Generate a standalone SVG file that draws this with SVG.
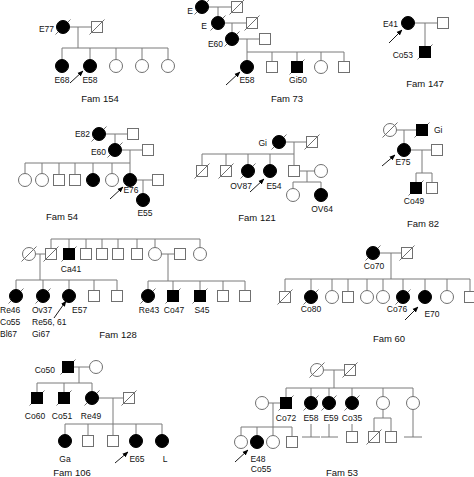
<svg xmlns="http://www.w3.org/2000/svg" width="474" height="477" viewBox="0 0 474 477">
<style>
.o{fill:#fff;stroke:#707070;stroke-width:1}
.f{fill:#000;stroke:#000;stroke-width:1}
.d{stroke:#707070;stroke-width:1;fill:none}
.ln{stroke:#7a7a7a;stroke-width:1;fill:none}
.ar{stroke:#000;stroke-width:0.9;fill:none;marker-end:url(#ah)}
text{font-family:"Liberation Sans",Arial,sans-serif;font-size:8.5px;fill:#111;text-anchor:middle}
.e{text-anchor:end}
.s{text-anchor:start}
.fam{font-size:9.5px}
</style>
<defs>
<circle id="C" r="6.5"/>
<rect id="S" x="-5.5" y="-5.5" width="11" height="11"/>
<path id="D" d="M-7.5,7.5L7.5,-7.5"/>
<marker id="ah" markerUnits="userSpaceOnUse" viewBox="0 0 10 10" refX="9" refY="5" markerWidth="6" markerHeight="6" orient="auto"><path d="M0,1L10,5L0,9z" fill="#000"/></marker>
</defs>
<rect width="474" height="477" fill="#fff"/>
<g id="connectors" class="ln">
<path id="c154" d="M69.5,27H91.5M78,27V48M62,48H168M62,48V59.5M90,48V59.5M116,48V59.5M142,48V59.5M168,48V59.5"/>
<path id="c73" d="M208.5,7H231.5M218,7V16.5M224.5,23H246.5M232,23V32.5M238.5,39H259.5M247,39V60.5M247,52H344M272,52V61.5M297,52V61.5M321,52V60.5M344,52V61.5"/>
<path id="c147" d="M414.5,23H437.5M425,23V46.5"/>
<path id="c54" d="M105.5,134H127.5M115,134V143.5M121.5,150H142.5M130,150V173.5M25,163H130M25,163V173.5M42,163V173.5M59,163V174.5M75,163V174.5M93,163V173.5M112,163V173.5M136.5,180H152.5M143,180V193.5"/>
<path id="c121" d="M285.5,142H306.5M294,142V165.5M202,154H294M202,154V165.5M226,154V165.5M248,154V164.5M270,154V164.5M299.5,171H314.5M307,171V182M293,182H321M293,182V188.5M321,182V188.5"/>
<path id="c82" d="M396.5,130H416.5M404,130V143.5M410.5,150H431.5M422,150V173M416,173H432M416,173V182.5M432,173V182.5"/>
<path id="c128" d="M51,239H200M51,239V248.5M69,239V248.5M86,239V248.5M102,239V248.5M118,239V248.5M137,239V248.5M155,239V247.5M200,239V247.5M35.5,254H45.5M40,254V280M16,280H117M16,280V289.5M43,280V289.5M69,280V289.5M94,280V290.5M117,280V290.5M161.5,254H174.5M168,254V281M148,281H245M148,281V289.5M173,281V290.5M200,281V290.5M223,281V290.5M245,281V290.5"/>
<path id="c60" d="M379.5,253H401.5M391,253V279M285,279H470M285,279V291.5M311,279V290.5M332,279V290.5M348,279V291.5M367,279V290.5M383,279V290.5M403,279V290.5M425,279V290.5M447,279V290.5M470,279V291.5"/>
<path id="c106" d="M73.5,367H89.5M79,367V383M37,383H92M37,383V392.5M64,383V392.5M92,383V391.5M98.5,398H123.5M113,398V424M65,424H162M65,424V434.5M88,424V435.5M113,424V435.5M136,424V434.5M162,424V434.5"/>
<path id="c53" d="M323.5,370H344.5M334,370V388M286,388H413M286,388V397.5M311,388V396.5M329,388V396.5M352,388V396.5M383,388V396.5M413,388V396.5M268.5,403H280.5M273,403V427M241,427H292M241,427V435.5M257,427V435.5M273,427V435.5M292,427V436.5M311,424V437M302,437H320M329,424V437M321,437H338M352,424V431.5M383,409.5V418M374,418H391M374,418V431.5M391,418V431.5M413,409.5V437M404,437H422"/>
</g>

<g id="fam154">
<g id="f154-E77"><use href="#D" x="63" y="27" class="d"/><use href="#C" x="63" y="27" class="f"/><text class="e" x="54" y="32">E77</text></g>
<g id="f154-father"><use href="#S" x="97" y="27" class="o"/><use href="#D" x="97" y="27" class="d"/></g>
<g id="f154-E68"><use href="#C" x="62" y="66" class="f"/><text x="62" y="83">E68</text></g>
<g id="f154-E58"><use href="#C" x="90" y="66" class="f"/><text x="90" y="83">E58</text><path class="ar" d="M70,83L83,71"/></g>
<g id="f154-c3"><use href="#C" x="116" y="66" class="o"/></g>
<g id="f154-c4"><use href="#C" x="142" y="66" class="o"/></g>
<g id="f154-c5"><use href="#C" x="168" y="66" class="o"/></g>
<text class="fam" x="100" y="102">Fam 154</text>
</g>

<g id="fam73">
<g id="f73-E1"><use href="#D" x="202" y="7" class="d"/><use href="#C" x="202" y="7" class="f"/><text class="e" x="193" y="14">E</text></g>
<g id="f73-sp1"><use href="#S" x="237" y="7" class="o"/><use href="#D" x="237" y="7" class="d"/></g>
<g id="f73-E2"><use href="#D" x="218" y="23" class="d"/><use href="#C" x="218" y="23" class="f"/><text class="e" x="207" y="29">E</text></g>
<g id="f73-sp2"><use href="#S" x="252" y="23" class="o"/><use href="#D" x="252" y="23" class="d"/></g>
<g id="f73-E60"><use href="#D" x="232" y="39" class="d"/><use href="#C" x="232" y="39" class="f"/><text class="e" x="223" y="47">E60</text></g>
<g id="f73-sp3"><use href="#S" x="265" y="39" class="o"/></g>
<g id="f73-E58"><use href="#C" x="247" y="67" class="f"/><text x="247" y="83">E58</text><path class="ar" d="M226,85L240,72"/></g>
<g id="f73-c2"><use href="#S" x="272" y="67" class="o"/></g>
<g id="f73-Gi50"><use href="#D" x="297" y="67" class="d"/><use href="#S" x="297" y="67" class="f"/><text x="298" y="83">Gi50</text></g>
<g id="f73-c4"><use href="#C" x="321" y="67" class="o"/></g>
<g id="f73-c5"><use href="#S" x="344" y="67" class="o"/></g>
<text class="fam" x="287" y="102">Fam 73</text>
</g>

<g id="fam147">
<g id="f147-E41"><use href="#C" x="408" y="23" class="f"/><text class="e" x="398" y="27">E41</text><path class="ar" d="M389,43L402,30"/></g>
<g id="f147-sp"><use href="#S" x="443" y="23" class="o"/></g>
<g id="f147-Co53"><use href="#D" x="425" y="52" class="d"/><use href="#S" x="425" y="52" class="f"/><text class="e" x="413" y="58">Co53</text></g>
<text class="fam" x="425" y="87">Fam 147</text>
</g>

<g id="fam54">
<g id="f54-E82"><use href="#D" x="99" y="134" class="d"/><use href="#C" x="99" y="134" class="f"/><text class="e" x="90" y="137">E82</text></g>
<g id="f54-sp1"><use href="#S" x="133" y="134" class="o"/></g>
<g id="f54-E60"><use href="#D" x="115" y="150" class="d"/><use href="#C" x="115" y="150" class="f"/><text class="e" x="106" y="155">E60</text></g>
<g id="f54-sp2"><use href="#S" x="148" y="150" class="o"/></g>
<g id="f54-c1"><use href="#C" x="25" y="180" class="o"/></g>
<g id="f54-c2"><use href="#C" x="42" y="180" class="o"/></g>
<g id="f54-c3"><use href="#S" x="59" y="180" class="o"/></g>
<g id="f54-c4"><use href="#S" x="75" y="180" class="o"/></g>
<g id="f54-c5"><use href="#C" x="93" y="180" class="f"/></g>
<g id="f54-c6"><use href="#C" x="112" y="180" class="o"/></g>
<g id="f54-E76"><use href="#C" x="130" y="180" class="f"/><text x="131" y="193">E76</text><path class="ar" d="M110,199L123,187"/></g>
<g id="f54-sp3"><use href="#S" x="158" y="180" class="o"/></g>
<g id="f54-E55"><use href="#C" x="143" y="200" class="f"/><text x="145" y="216">E55</text></g>
<text class="fam" x="62" y="220">Fam 54</text>
</g>

<g id="fam121">
<g id="f121-Gi"><use href="#D" x="279" y="142" class="d"/><use href="#C" x="279" y="142" class="f"/><text class="e" x="267" y="146">Gi</text></g>
<g id="f121-sp"><use href="#S" x="312" y="142" class="o"/><use href="#D" x="312" y="142" class="d"/></g>
<g id="f121-c1"><use href="#S" x="202" y="171" class="o"/><use href="#D" x="202" y="171" class="d"/></g>
<g id="f121-c2"><use href="#S" x="226" y="171" class="o"/><use href="#D" x="226" y="171" class="d"/></g>
<g id="f121-OV87"><use href="#D" x="248" y="171" class="d"/><use href="#C" x="248" y="171" class="f"/><text x="241" y="189">OV87</text></g>
<g id="f121-E54"><use href="#C" x="270" y="171" class="f"/><text x="274" y="189">E54</text><path class="ar" d="M250,192L264,179"/></g>
<g id="f121-c5"><use href="#S" x="294" y="171" class="o"/></g>
<g id="f121-sp2"><use href="#C" x="321" y="171" class="o"/></g>
<g id="f121-g1"><use href="#C" x="293" y="195" class="o"/></g>
<g id="f121-OV64"><use href="#C" x="321" y="195" class="f"/><text x="322" y="212">OV64</text></g>
<text class="fam" x="257" y="221">Fam 121</text>
</g>

<g id="fam82">
<g id="f82-gm"><use href="#C" x="390" y="130" class="o"/><use href="#D" x="390" y="130" class="d"/></g>
<g id="f82-Gi"><use href="#D" x="422" y="130" class="d"/><use href="#S" x="422" y="130" class="f"/><text class="s" x="434" y="133">Gi</text></g>
<g id="f82-E75"><use href="#C" x="404" y="150" class="f"/><text x="403" y="165">E75</text><path class="ar" d="M382,166L395,155"/></g>
<g id="f82-sp"><use href="#S" x="437" y="150" class="o"/></g>
<g id="f82-Co49"><use href="#D" x="416" y="188" class="d"/><use href="#S" x="416" y="188" class="f"/><text x="414" y="204">Co49</text></g>
<g id="f82-c2"><use href="#S" x="432" y="188" class="o"/></g>
<text class="fam" x="423" y="227">Fam 82</text>
</g>

<g id="fam128">
<g id="f128-m"><use href="#C" x="29" y="254" class="o"/><use href="#D" x="29" y="254" class="d"/></g>
<g id="f128-f"><use href="#S" x="51" y="254" class="o"/><use href="#D" x="51" y="254" class="d"/></g>
<g id="f128-Ca41"><use href="#D" x="69" y="254" class="d"/><use href="#S" x="69" y="254" class="f"/><text x="71" y="272">Ca41</text></g>
<g id="f128-s3"><use href="#S" x="86" y="254" class="o"/></g>
<g id="f128-s4"><use href="#S" x="102" y="254" class="o"/></g>
<g id="f128-s5"><use href="#S" x="118" y="254" class="o"/></g>
<g id="f128-s6"><use href="#S" x="137" y="254" class="o"/></g>
<g id="f128-s7"><use href="#C" x="155" y="254" class="o"/></g>
<g id="f128-sp"><use href="#S" x="180" y="254" class="o"/></g>
<g id="f128-s8"><use href="#C" x="200" y="254" class="o"/></g>
<g id="f128-Re46"><use href="#D" x="16" y="296" class="d"/><use href="#C" x="16" y="296" class="f"/><text class="s" x="0" y="313">Re46</text><text class="s" x="0" y="325">Co55</text><text class="s" x="0" y="337">Bl67</text></g>
<g id="f128-Ov37"><use href="#D" x="43" y="296" class="d"/><use href="#C" x="43" y="296" class="f"/><text class="s" x="32" y="313">Ov37</text><text class="s" x="32" y="325">Re56, 61</text><text class="s" x="32" y="337">Gi67</text></g>
<g id="f128-E57"><use href="#C" x="69" y="296" class="f"/><text class="s" x="72" y="313">E57</text><path class="ar" d="M54,318L66,301"/></g>
<g id="f128-c4"><use href="#S" x="94" y="296" class="o"/></g>
<g id="f128-c5"><use href="#S" x="117" y="296" class="o"/></g>
<g id="f128-Re43"><use href="#D" x="148" y="296" class="d"/><use href="#C" x="148" y="296" class="f"/><text x="149" y="313">Re43</text></g>
<g id="f128-Co47"><use href="#D" x="173" y="296" class="d"/><use href="#S" x="173" y="296" class="f"/><text x="174" y="313">Co47</text></g>
<g id="f128-S45"><use href="#D" x="200" y="296" class="d"/><use href="#S" x="200" y="296" class="f"/><text x="202" y="313">S45</text></g>
<g id="f128-d4"><use href="#S" x="223" y="296" class="o"/></g>
<g id="f128-d5"><use href="#S" x="245" y="296" class="o"/></g>
<text class="fam" x="118" y="338">Fam 128</text>
</g>

<g id="fam60">
<g id="f60-Co70"><use href="#D" x="373" y="253" class="d"/><use href="#C" x="373" y="253" class="f"/><text x="374" y="269">Co70</text></g>
<g id="f60-sp"><use href="#S" x="407" y="253" class="o"/><use href="#D" x="407" y="253" class="d"/></g>
<g id="f60-c1"><use href="#S" x="285" y="297" class="o"/><use href="#D" x="285" y="297" class="d"/></g>
<g id="f60-Co80"><use href="#D" x="311" y="297" class="d"/><use href="#C" x="311" y="297" class="f"/><text x="311" y="312">Co80</text></g>
<g id="f60-c3"><use href="#C" x="332" y="297" class="o"/></g>
<g id="f60-c4"><use href="#S" x="348" y="297" class="o"/></g>
<g id="f60-c5"><use href="#C" x="367" y="297" class="o"/></g>
<g id="f60-c6"><use href="#C" x="383" y="297" class="o"/></g>
<g id="f60-Co76"><use href="#D" x="403" y="297" class="d"/><use href="#C" x="403" y="297" class="f"/><text x="397" y="312">Co76</text></g>
<g id="f60-E70"><use href="#C" x="425" y="297" class="f"/><text x="432" y="317">E70</text><path class="ar" d="M405,320L418,307"/></g>
<g id="f60-c9"><use href="#C" x="447" y="297" class="o"/></g>
<g id="f60-c10"><use href="#S" x="470" y="297" class="o"/></g>
<text class="fam" x="389" y="342">Fam 60</text>
</g>

<g id="fam106">
<g id="f106-Co50"><use href="#D" x="68" y="367" class="d"/><use href="#S" x="68" y="367" class="f"/><text class="e" x="55" y="373">Co50</text></g>
<g id="f106-sp"><use href="#C" x="96" y="367" class="o"/></g>
<g id="f106-Co60"><use href="#D" x="37" y="398" class="d"/><use href="#S" x="37" y="398" class="f"/><text x="35" y="419">Co60</text></g>
<g id="f106-Co51"><use href="#D" x="64" y="398" class="d"/><use href="#S" x="64" y="398" class="f"/><text x="62" y="419">Co51</text></g>
<g id="f106-Re49"><use href="#D" x="92" y="398" class="d"/><use href="#C" x="92" y="398" class="f"/><text x="91" y="419">Re49</text></g>
<g id="f106-sp2"><use href="#S" x="129" y="398" class="o"/><use href="#D" x="129" y="398" class="d"/></g>
<g id="f106-Ga"><use href="#C" x="65" y="441" class="f"/><text x="65" y="462">Ga</text></g>
<g id="f106-c2"><use href="#S" x="88" y="441" class="o"/></g>
<g id="f106-c3"><use href="#S" x="113" y="441" class="o"/></g>
<g id="f106-E65"><use href="#C" x="136" y="441" class="f"/><text x="137" y="462">E65</text><path class="ar" d="M115,463L128,452"/></g>
<g id="f106-L"><use href="#C" x="162" y="441" class="f"/><text x="165" y="462">L</text></g>
<text class="fam" x="72" y="476">Fam 106</text>
</g>

<g id="fam53">
<g id="f53-gm"><use href="#C" x="317" y="370" class="o"/><use href="#D" x="317" y="370" class="d"/></g>
<g id="f53-gf"><use href="#S" x="350" y="370" class="o"/><use href="#D" x="350" y="370" class="d"/></g>
<g id="f53-wife"><use href="#C" x="262" y="403" class="o"/></g>
<g id="f53-Co72"><use href="#D" x="286" y="403" class="d"/><use href="#S" x="286" y="403" class="f"/><text x="286" y="421">Co72</text></g>
<g id="f53-E58"><use href="#D" x="311" y="403" class="d"/><use href="#C" x="311" y="403" class="f"/><text x="311" y="421">E58</text></g>
<g id="f53-E59"><use href="#D" x="329" y="403" class="d"/><use href="#C" x="329" y="403" class="f"/><text x="331" y="421">E59</text></g>
<g id="f53-Co35"><use href="#D" x="352" y="403" class="d"/><use href="#C" x="352" y="403" class="f"/><text x="352" y="421">Co35</text></g>
<g id="f53-a1"><use href="#C" x="383" y="403" class="o"/></g>
<g id="f53-a2"><use href="#C" x="413" y="403" class="o"/></g>
<g id="f53-g1"><use href="#C" x="241" y="442" class="o"/></g>
<g id="f53-E48"><use href="#C" x="257" y="442" class="f"/><text x="258" y="462">E48</text><text x="261" y="472">Co55</text><path class="ar" d="M235,462L248,450"/></g>
<g id="f53-g3"><use href="#C" x="273" y="442" class="o"/></g>
<g id="f53-g4"><use href="#S" x="292" y="442" class="o"/></g>
<g id="f53-Co35child"><use href="#S" x="352" y="437" class="o"/></g>
<g id="f53-a1c1"><use href="#S" x="374" y="437" class="o"/><use href="#D" x="374" y="437" class="d"/></g>
<g id="f53-a1c2"><use href="#S" x="391" y="437" class="o"/></g>
<text class="fam" x="342" y="476">Fam 53</text>
</g>
</svg>
